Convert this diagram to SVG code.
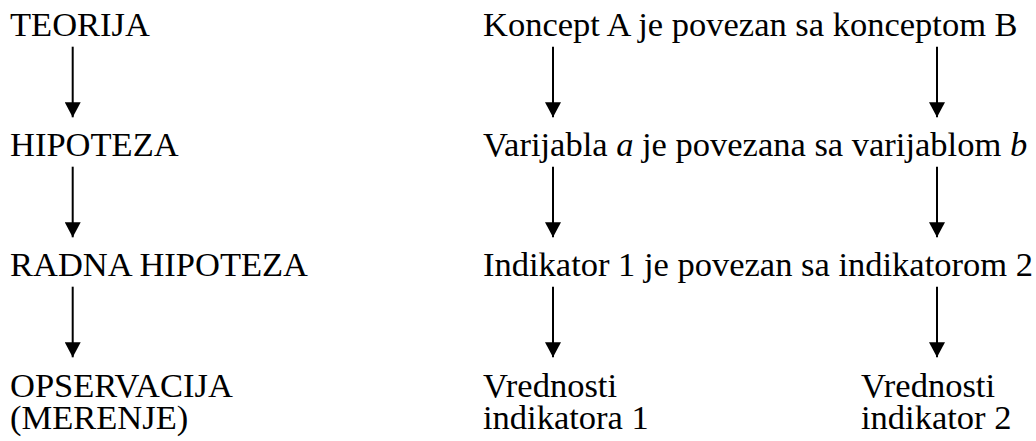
<svg xmlns="http://www.w3.org/2000/svg" width="1036" height="441" viewBox="0 0 1036 441">
<style>
text{font-family:'Liberation Serif','Times New Roman',Times,serif;font-size:34.5px;fill:#000}
.c line{stroke:#000;stroke-width:2}
</style>
<defs>
<marker id="ah" markerUnits="userSpaceOnUse" markerWidth="16" markerHeight="16" refX="15" refY="8" orient="auto">
<path d="M0,0 L15,8 L0,16 Z" fill="#000"/>
</marker>
</defs>
<rect width="1036" height="441" fill="#fff"/>
<g id="n-teorija"><text x="10" y="36">TEORIJA</text></g>
<g id="n-hipoteza"><text x="10" y="156">HIPOTEZA</text></g>
<g id="n-radna"><text x="10" y="276">RADNA HIPOTEZA</text></g>
<g id="n-opservacija"><text x="10" y="397">OPSERVACIJA</text><text x="10" y="429">(MERENJE)</text></g>
<g id="n-koncept"><text x="483" y="36">Koncept A je povezan sa konceptom B</text></g>
<g id="n-varijabla"><text x="483" y="156">Varijabla <tspan font-style="italic">a</tspan> je povezana sa varijablom <tspan font-style="italic">b</tspan></text></g>
<g id="n-indikator"><text x="483" y="276">Indikator 1 je povezan sa indikatorom 2</text></g>
<g id="n-vred1"><text x="483" y="397">Vrednosti</text><text x="483" y="429">indikatora 1</text></g>
<g id="n-vred2"><text x="861" y="397">Vrednosti</text><text x="861" y="429">indikator 2</text></g>
<g id="connectors" class="c">
<line x1="72.7" y1="46.7" x2="72.7" y2="117.3" marker-end="url(#ah)"/>
<line x1="72.7" y1="166.7" x2="72.7" y2="237.3" marker-end="url(#ah)"/>
<line x1="72.7" y1="286.7" x2="72.7" y2="357.3" marker-end="url(#ah)"/>
<line x1="553" y1="46.7" x2="553" y2="117.3" marker-end="url(#ah)"/>
<line x1="553" y1="166.7" x2="553" y2="237.3" marker-end="url(#ah)"/>
<line x1="553" y1="286.7" x2="553" y2="357.3" marker-end="url(#ah)"/>
<line x1="937" y1="46.7" x2="937" y2="117.3" marker-end="url(#ah)"/>
<line x1="937" y1="166.7" x2="937" y2="237.3" marker-end="url(#ah)"/>
<line x1="937" y1="286.7" x2="937" y2="357.3" marker-end="url(#ah)"/>
</g>
</svg>
